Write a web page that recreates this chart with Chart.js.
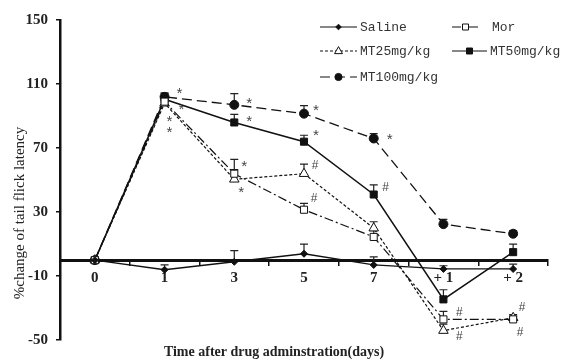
<!DOCTYPE html>
<html>
<head>
<meta charset="utf-8">
<script src="https://cdn.jsdelivr.net/npm/chart.js@4"></script>
<style>
  html, body { margin: 0; padding: 0; background: #fff; }
  #wrap { width: 565px; height: 361px; }
</style>
</head>
<body>
<div id="wrap"><canvas id="chart" width="565" height="361"></canvas></div>
<script>
// days after drug administration ("+ 1", "+ 2" = days after withdrawal)
const categories = ["0", "1", "3", "5", "7", "+ 1", "+ 2"];
const yTicks = [-50, -10, 30, 70, 110, 150];

const saline = [0, -6, -1, 4, -3, -5.5, -5.5];
const salineErr = [0, 3, 7, 6, 5, 2, 3];
const mor = [0, 99, 54, 31.5, 14.5, -37, -37];
const morErr = [0, 3, 9, 4, 4, 5, 2];
const mt25 = [0, 98, 50.5, 54, 20, -44, -36];
const mt25Err = [0, 2, 6, 6, 4, 4, 2];
const mt50 = [0, 100.5, 86, 74, 41, -24.5, 5];
const mt50Err = [0, 4, 5, 4, 6, 6, 5];
const mt100 = [0, 102, 97, 91.5, 76, 22.5, 16.5];
const mt100Err = [0, 2, 7, 5, 3, 3, 2];

// significance marks
const morMarks = ["", "*", "*", "#", "", "#", "#"];
const mt25Marks = ["", "*", "*", "#", "", "#", "#"];
const mt50Marks = ["", "*", "*", "*", "#", "", ""];
const mt100Marks = ["", "*", "*", "*", "*", "", ""];

// where each mark sits next to its point (pixels)
const markOffsets = {
  Mor:   [null, [5, 18], [10, -9], [10, -11], null, [16, -7], [9, -12]],
  MT25:  [null, [5, 28], [7, 12], [11, -8], null, [16, 6], [7, 15]],
  MT50:  [null, [17, 9], [15, -2], [12, -8], [12, -7], null, null],
  MT100: [null, [15, -5], [15, -3], [12, -5], [16, 0], null, null]
};

const serif = "'Liberation Serif', 'DejaVu Serif', serif";
const mono = "'Liberation Mono', 'DejaVu Sans Mono', monospace";

function ds(label, data, err, marks, style) {
  return Object.assign({
    label: label,
    data: data,
    errors: err,
    marks: marks,
    borderColor: "#111",
    pointBorderColor: "#111",
    pointBorderWidth: 1,
    tension: 0,
    fill: false
  }, style);
}

const datasets = [
  ds("Saline", saline, salineErr, null, {
    borderWidth: 1.3, pointStyle: "rectRot", pointRadius: 3.5,
    pointBackgroundColor: "#111"
  }),
  ds("Mor", mor, morErr, morMarks, {
    borderWidth: 1.2, borderDash: [9, 3, 2, 3], pointStyle: "rect",
    pointRadius: 5, pointBackgroundColor: "#fff"
  }),
  ds("MT25mg/kg", mt25, mt25Err, mt25Marks, {
    borderWidth: 1.2, borderDash: [3, 2], pointStyle: "triangle",
    pointRadius: 5.5, pointBackgroundColor: "#fff"
  }),
  ds("MT50mg/kg", mt50, mt50Err, mt50Marks, {
    borderWidth: 1.5, pointStyle: "rect", pointRadius: 5,
    pointBackgroundColor: "#111"
  }),
  ds("MT100mg/kg", mt100, mt100Err, mt100Marks, {
    borderWidth: 1.3, borderDash: [10, 5], pointStyle: "circle",
    pointRadius: 4.5, pointBackgroundColor: "#111"
  })
];

const errorBars = {
  id: "errorBars",
  beforeDatasetsDraw(chart) {
    const ctx = chart.ctx;
    const y = chart.scales.y;
    ctx.save();
    ctx.strokeStyle = "#222";
    ctx.lineWidth = 1.2;
    chart.data.datasets.forEach((d, di) => {
      const meta = chart.getDatasetMeta(di);
      meta.data.forEach((pt, i) => {
        const e = d.errors[i];
        if (!e) return;
        const top = y.getPixelForValue(d.data[i] + e);
        ctx.beginPath();
        ctx.moveTo(pt.x, pt.y);
        ctx.lineTo(pt.x, top);
        ctx.moveTo(pt.x - 4, top);
        ctx.lineTo(pt.x + 4, top);
        ctx.stroke();
      });
    });
    ctx.restore();
  }
};

const marksAndTitle = {
  id: "marksAndTitle",
  afterDraw(chart) {
    const ctx = chart.ctx;
    ctx.save();
    // significance marks
    ctx.fillStyle = "#444";
    ctx.textAlign = "center";
    ctx.textBaseline = "middle";
    chart.data.datasets.forEach((d, di) => {
      if (!d.marks) return;
      const key = d.label.replace("mg/kg", "");
      const meta = chart.getDatasetMeta(di);
      d.marks.forEach((m, i) => {
        if (!m) return;
        const off = markOffsets[key][i];
        const pt = meta.data[i];
        ctx.font = m === "*" ? "15px " + mono : "12px " + mono;
        ctx.fillText(m, pt.x + off[0], pt.y + off[1] + (m === "*" ? 3 : 0));
      });
    });

    // y axis title
    ctx.fillStyle = "#222";
    ctx.font = "15px " + serif;
    ctx.translate(20, 213);
    ctx.rotate(-Math.PI / 2);
    ctx.textAlign = "center";
    ctx.fillText("%change of tail flick latency", 0, 0);
    ctx.restore();

    // legend
    const rows = [
      [0, 320, 357, 360, 27], [1, 452, 479, 492, 27],
      [2, 320, 357, 360, 51], [3, 452, 487, 490, 51],
      [4, 320, 357, 360, 77]
    ];
    ctx.save();
    rows.forEach(([di, x1, x2, tx, ty]) => {
      const d = chart.data.datasets[di];
      ctx.strokeStyle = "#111";
      ctx.lineWidth = Math.min(d.borderWidth, 1.2);
      ctx.setLineDash(d.borderDash || []);
      ctx.beginPath();
      ctx.moveTo(x1, ty);
      ctx.lineTo(x2, ty);
      ctx.stroke();
      ctx.setLineDash([]);
      const cx = (x1 + x2) / 2;
      const r = d.pointRadius * 0.8;
      ctx.fillStyle = d.pointBackgroundColor;
      ctx.lineWidth = 1;
      ctx.beginPath();
      if (d.pointStyle === "circle") {
        ctx.arc(cx, ty, r, 0, Math.PI * 2);
      } else if (d.pointStyle === "rect") {
        ctx.rect(cx - r * 0.75, ty - r * 0.75, r * 1.5, r * 1.5);
      } else if (d.pointStyle === "rectRot") {
        ctx.moveTo(cx, ty - r); ctx.lineTo(cx + r, ty);
        ctx.lineTo(cx, ty + r); ctx.lineTo(cx - r, ty); ctx.closePath();
      } else if (d.pointStyle === "triangle") {
        ctx.moveTo(cx, ty - r); ctx.lineTo(cx + r * 0.9, ty + r * 0.6);
        ctx.lineTo(cx - r * 0.9, ty + r * 0.6); ctx.closePath();
      }
      ctx.fill();
      ctx.stroke();
      ctx.fillStyle = "#333";
      ctx.font = "13px " + mono;
      ctx.textAlign = "left";
      ctx.textBaseline = "middle";
      ctx.fillText(d.label, tx, ty + 1);
    });
    ctx.restore();
  }
};

new Chart(document.getElementById("chart"), {
  type: "line",
  data: { labels: categories, datasets: datasets },
  plugins: [errorBars, marksAndTitle],
  options: {
    responsive: false,
    animation: false,
    layout: { padding: { left: 0, right: 17, top: 20, bottom: 0 } },
    plugins: {
      legend: { display: false },
      tooltip: { enabled: false },
      title: {
        display: true,
        position: "bottom",
        text: "Time after drug adminstration(days)",
        color: "#222",
        font: { family: serif, size: 14, weight: "bold" },
        padding: { top: 4, bottom: 0 }
      }
    },
    scales: {
      x: {
        type: "category",
        position: { y: 0 },
        offset: true,
        grid: {
          display: true, drawOnChartArea: false, drawTicks: true,
          tickLength: 4, offset: true, color: "#111", lineWidth: 1.5
        },
        border: { display: true, color: "#111", width: 3 },
        ticks: {
          color: "#222", padding: 5,
          font: { family: serif, size: 15, weight: "bold" }
        }
      },
      y: {
        min: -50,
        max: 150,
        afterFit(s) { s.width = 60; },
        afterBuildTicks(s) { s.ticks = yTicks.map(v => ({ value: v })); },
        grid: {
          display: true, drawOnChartArea: false, drawTicks: true,
          tickLength: 4, color: "#111", lineWidth: 1.5
        },
        border: { display: true, color: "#111", width: 2.5 },
        ticks: {
          color: "#222", padding: 8,
          font: { family: serif, size: 15, weight: "bold" }
        }
      }
    }
  }
});
</script>
</body>
</html>
